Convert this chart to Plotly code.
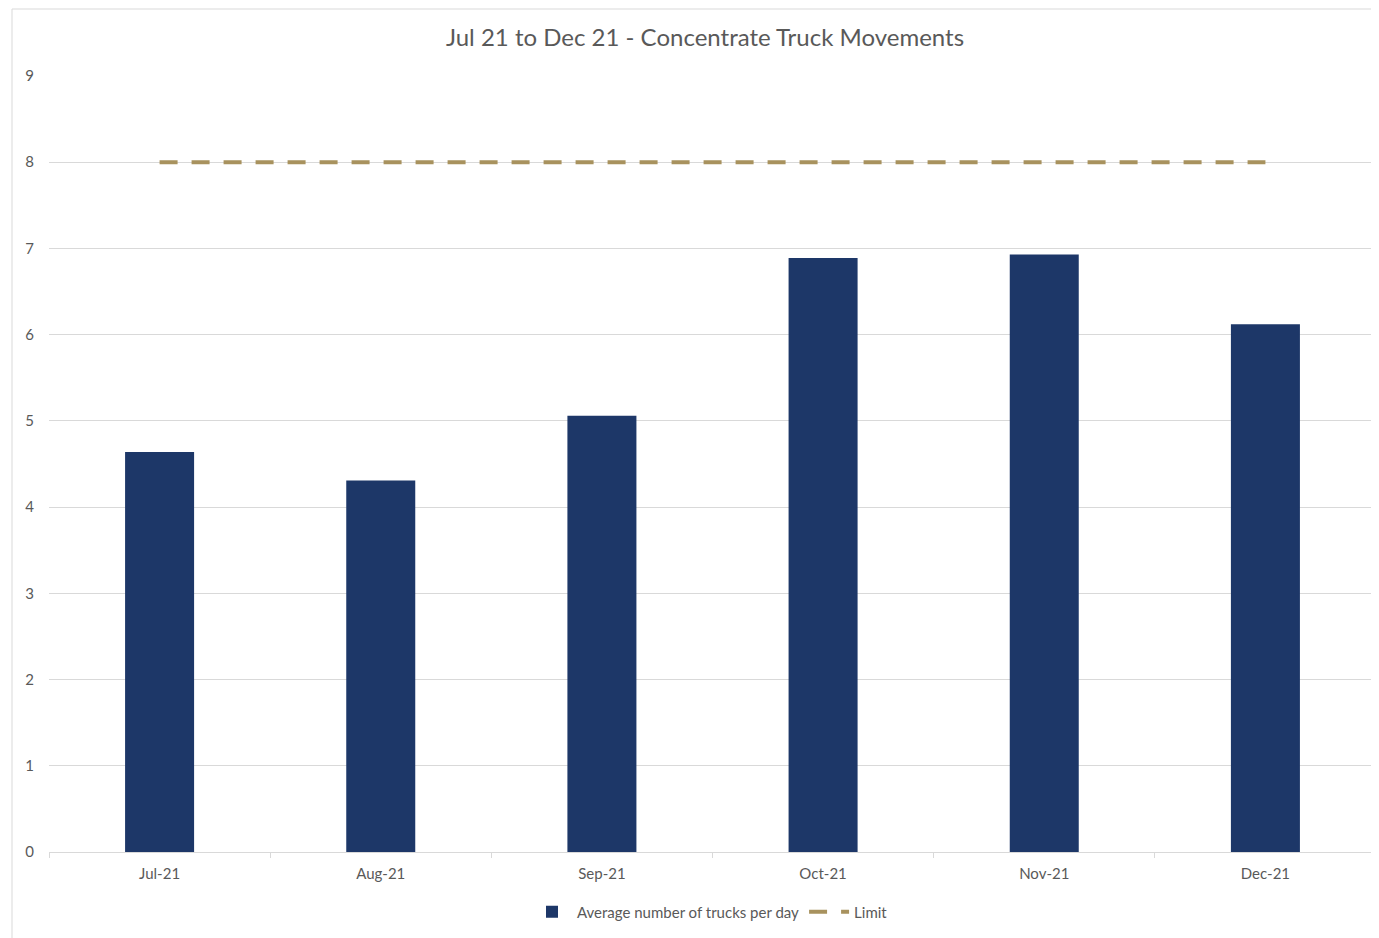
import plotly.graph_objects as go

months = ["Jul-21", "Aug-21", "Sep-21", "Oct-21", "Nov-21", "Dec-21"]
avg_trucks = [4.64, 4.31, 5.06, 6.89, 6.93, 6.12]
limit = [8, 8, 8, 8, 8, 8]

# page has an 8px body margin; figure is offset by (8, 8)
OFF = 8
W, H = 1371, 930
L, R, T, B = 41, 3, 68, 86

fig = go.Figure()
fig.add_trace(go.Bar(
    x=months, y=avg_trucks, name="Average number of trucks per day",
    marker=dict(color="#1d3768", line=dict(width=0)),
))
fig.add_trace(go.Scatter(
    x=months, y=limit, name="Limit", mode="lines",
    line=dict(color="#a8925e", width=4, dash="18px,14px"),
))

pw = W - L - R
ph = H - T - B

def px_x(page_x):
    return (page_x - OFF - L) / pw

def px_y(page_y):
    return ((H - B) - (page_y - OFF)) / ph

fig.add_shape(type="rect", xref="paper", yref="paper",
              x0=px_x(12), x1=px_x(1385),
              y0=px_y(945), y1=px_y(9),
              line=dict(color="#d9d9d9", width=1), layer="below")

fig.update_layout(
    width=W, height=H,
    margin=dict(l=L, r=R, t=T, b=B),
    paper_bgcolor="white", plot_bgcolor="white",
    font=dict(family="Lato, Open Sans, sans-serif", color="#595959", size=14),
    title=dict(text="Jul 21 to Dec 21 - Concentrate Truck Movements",
               x=(705 - OFF) / W, xanchor="center",
               y=1 - (38 - OFF) / H, yanchor="middle",
               font=dict(size=24, color="#595959")),
    bargap=0.688,
    showlegend=True,
    legend=dict(orientation="h", x=px_x(710), xanchor="center",
                y=px_y(912), yanchor="middle", itemwidth=40,
                font=dict(size=15, color="#595959")),
    xaxis=dict(showgrid=False, showline=True, linecolor="#d9d9d9", linewidth=1,
               ticks="outside", tickson="boundaries", ticklen=5, tickcolor="#d9d9d9",
               ticklabelstandoff=8,
               tickfont=dict(size=15, color="#595959")),
    yaxis=dict(range=[0, 9], dtick=1, showgrid=True, gridcolor="#d9d9d9", gridwidth=1,
               zeroline=False, showline=False, ticks="", ticklabelstandoff=14,
               tickfont=dict(size=15, color="#595959")),
)

fig.write_html("out.html")
